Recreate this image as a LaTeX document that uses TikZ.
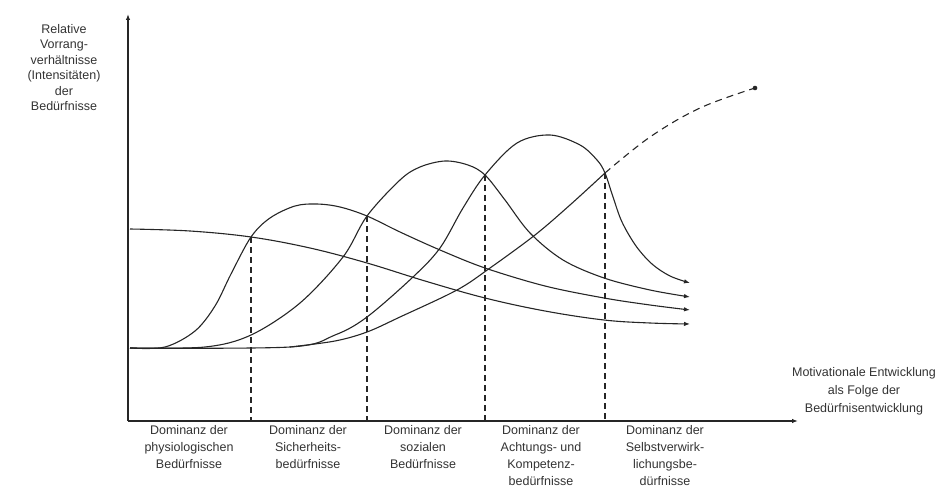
\documentclass[tikz,border=0pt]{standalone}
\usepackage{fontspec}
\setmainfont{Liberation Sans}
\usetikzlibrary{arrows.meta}
\begin{document}
\begin{tikzpicture}[x=1pt,y=-1pt,
  curve/.style={line width=1.1pt, black!85},
  tipcurve/.style={curve, -{Latex[length=6pt,width=4.5pt]}},
  axisline/.style={line width=1.3pt, black!85, -{Latex[length=6pt,width=4.5pt]}},
  drop/.style={line width=1.1pt, black!85, dash pattern=on 6pt off 4pt},
  lbl/.style={font=\fontsize{12.5}{17}\selectfont, align=center, text=black!80, inner sep=0pt}]
\useasboundingbox (0,0) rectangle (947,489);
% axes
\coordinate (O) at (128,421);
\coordinate (Ytop) at (128,14);
\coordinate (Xend) at (798,421);
\draw[axisline] (O) -- (Ytop);
\draw[axisline] (O) -- (Xend);
% intersection coordinates
\coordinate (I1) at (251,237);
\coordinate (I2) at (367,216);
\coordinate (I3) at (485,175);
\coordinate (I4) at (605,173);
\coordinate (B1) at (251,421);
\coordinate (B2) at (367,421);
\coordinate (B3) at (485,421);
\coordinate (B4) at (605,421);
\coordinate (D) at (755,88);
% physiological
\draw[tipcurve] plot[smooth, tension=0.6] coordinates {(130,229) (190,231) (I1) (310,248) (367,263) (425,281) (485,298) (545,311) (604,320) (650,323) (690,324)};
% safety
\draw[tipcurve] plot[smooth, tension=0.55] coordinates {(130,348) (165,347) (195,331) (215,306) (231,274) (I1) (270,218) (295,206) (317,204) (340,207) (I2) (400,232) (440,250) (485,268) (545,286) (604,298) (650,305) (690,310)};
% social
\draw[tipcurve] plot[smooth, tension=0.55] coordinates {(130,348) (205,347) (251,335) (300,303) (343,257) (I2) (400,180) (420,167) (445,161) (468,165) (I3) (505,200) (530,233) (563,260) (604,278) (650,290) (690,297)};
% esteem
\draw[tipcurve] plot[smooth, tension=0.55] coordinates {(130,348) (290,347) (335,335) (367,317) (413,277) (440,248) (463,208) (I3) (517,143) (550,135) (580,145) (597,160) (I4) (613,197) (622,222) (636,246) (652,264) (670,276) (690,283)};
% self-actualisation
\draw[curve] plot[smooth, tension=0.55] coordinates {(290,347) (335,341) (367,332) (400,317) (457,290) (490,268) (535,235) (570,205) (I4)};
\draw[curve, dash pattern=on 7pt off 5pt] plot[smooth, tension=0.6] coordinates {(I4) (650,137) (700,108) (D)};
\fill[black!85] (D) circle (2.3pt);
% drops
\draw[drop] (I1) -- (B1);
\draw[drop] (I2) -- (B2);
\draw[drop] (I3) -- (B3);
\draw[drop] (I4) -- (B4);
% labels
\node[lbl, font=\fontsize{12.5}{15.5}\selectfont, anchor=north] (ylab) at (64,24) {Relative\\Vorrang-\\verhältnisse\\(Intensitäten)\\der\\Bedürfnisse};
\node[lbl, font=\fontsize{12.5}{18}\selectfont, anchor=north] (xlab) at (864,367) {Motivationale Entwicklung\\als Folge der\\Bedürfnisentwicklung};
\node[lbl, anchor=north] (d1) at (189,425) {Dominanz der\\physiologischen\\Bedürfnisse};
\node[lbl, anchor=north] (d2) at (308,425) {Dominanz der\\Sicherheits-\\bedürfnisse};
\node[lbl, anchor=north] (d3) at (423,425) {Dominanz der\\sozialen\\Bedürfnisse};
\node[lbl, anchor=north] (d4) at (541,425) {Dominanz der\\Achtungs- und\\Kompetenz-\\bedürfnisse};
\node[lbl, anchor=north] (d5) at (665,425) {Dominanz der\\Selbstverwirk-\\lichungsbe-\\dürfnisse};
\end{tikzpicture}
\end{document}
